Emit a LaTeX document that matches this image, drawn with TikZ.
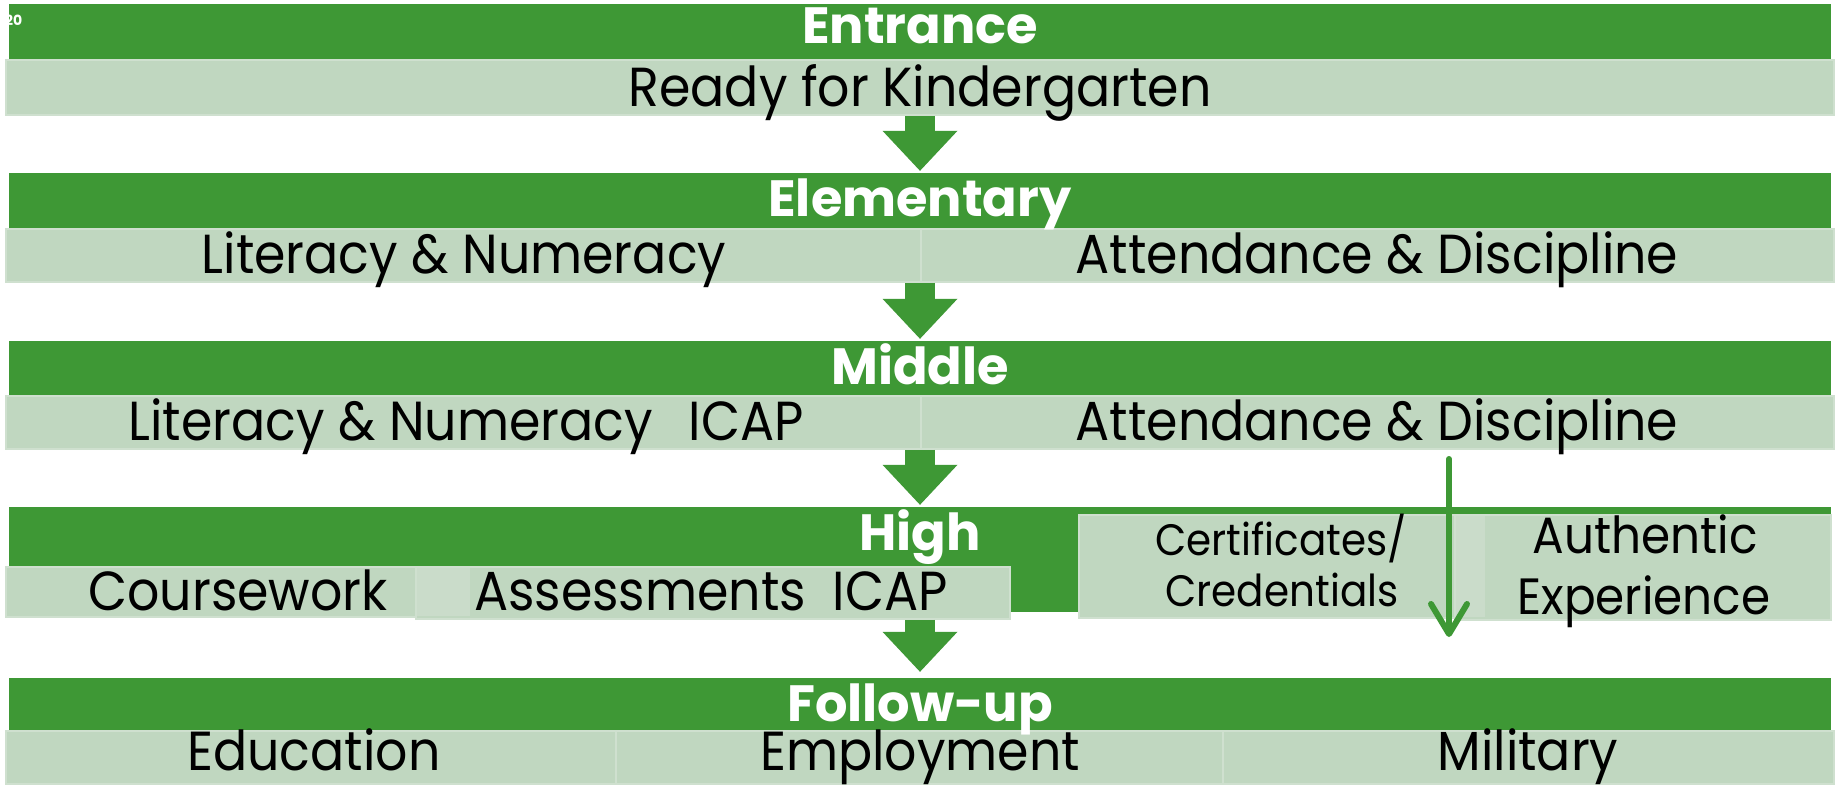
\documentclass[tikz,border=0pt]{standalone}
\usepackage{fontspec}
\setmainfont{Poppins}
\newfontfamily\bodyf{Poppins}[FakeStretch=0.92]
\usetikzlibrary{fit,arrows.meta}
\definecolor{dkgreen}{HTML}{3E9835}
\definecolor{ltgreen}{HTML}{C0D7C0}
\definecolor{ltedge}{HTML}{CFE0CF}
\definecolor{ovl}{HTML}{CADCCA}
\tikzset{
  gbar/.style={fill=dkgreen, draw=none, inner sep=0pt},
  lbox/.style={fill=ltgreen, draw=ltedge, line width=1.5pt, inner sep=0pt},
  headtxt/.style={font=\bfseries\fontsize{51}{51}\selectfont, text=white, inner sep=0pt, anchor=base},
  bodytxt/.style={font=\bodyf\fontsize{55}{60}\selectfont, text=black, inner sep=0pt, anchor=base},
  smalltxt/.style={font=\bodyf\fontsize{44}{50}\selectfont, text=black, inner sep=0pt, anchor=base},
  midtxt/.style={font=\bodyf\fontsize{51}{58}\selectfont, text=black, inner sep=0pt, anchor=base},
  blockarrow/.style={draw=dkgreen, line width=30pt, shorten >=2pt,
    -{Triangle[length=40pt, width=75pt, line width=0pt]}},
  thinarrow/.style={draw=dkgreen, line width=6pt, line cap=round,
    -{Straight Barb[length=30pt, width=36pt, line width=6pt, round]}}
}
\begin{document}
\begin{tikzpicture}[x=1pt,y=-1pt]
\useasboundingbox[fill=white] (0,0) rectangle (1839,785);
% row 1
\node[gbar, fit={(9,4) (1831,60)}] (g1) {};
\node[lbox, fit={(6,60) (1834,115)}] (l1) {};
% slide number
\node[font=\bfseries\fontsize{14}{14}\selectfont, text=white, inner sep=0pt, anchor=base west] (num) at (5,25) {20};
% row 2
\node[gbar, fit={(9,173) (1831,229)}] (g2) {};
\node[lbox, fit={(6,229) (921,282)}] (l2a) {};
\node[lbox, fit={(921,229) (1834,282)}] (l2b) {};
% row 3
\node[gbar, fit={(9,341) (1831,396)}] (g3) {};
\node[lbox, fit={(6,396) (921,449)}] (l3a) {};
\node[lbox, fit={(921,396) (1834,449)}] (l3b) {};
% row 4
\node[gbar, fit={(9,507) (1831,612)}] (g4) {};
\node[lbox, fit={(6,567) (470,617)}] (l4a) {};
\node[lbox, fit={(416,567) (1010,619)}] (l4b) {};
\fill[ovl] (417,568) rectangle (470,616);
\node[lbox, fit={(1079,515) (1485,618)}] (l4c) {};
\node[lbox, fit={(1455,515) (1831,620)}] (l4d) {};
\fill[ovl] (1456,516) rectangle (1485,617);
% row 5
\node[gbar, fit={(9,678) (1831,731)}] (g5) {};
\node[lbox, fit={(6,731) (616,784)}] (l5a) {};
\node[lbox, fit={(616,731) (1223,784)}] (l5b) {};
\node[lbox, fit={(1223,731) (1834,784)}] (l5c) {};
% texts
\node[headtxt] (h1) at (920,43) {Entrance};
\node[bodytxt] (t1) at (920,106) {Ready for Kindergarten};
\node[headtxt] (h2) at (920,216) {Elementary};
\node[bodytxt] (t2a) at (464,273) {Literacy \& Numeracy};
\node[bodytxt] (t2b) at (1377,273) {Attendance \& Discipline};
\node[headtxt] (h3) at (920,384) {Middle};
\node[bodytxt] (t3a) at (466,440) {Literacy \& Numeracy\hspace{36pt}ICAP};
\node[bodytxt] (t3b) at (1377,440) {Attendance \& Discipline};
\node[headtxt] (h4) at (920,550) {High};
\node[bodytxt] (t4a) at (238,610) {Coursework};
\node[bodytxt] (t4b) at (711,610) {Assessments~~ICAP};
\node[smalltxt] (t4c1) at (1281,555) {Certificates/};
\node[smalltxt] (t4c2) at (1282,606) {Credentials};
\node[midtxt] (t4d1) at (1645,553) {Authentic};
\node[midtxt] (t4d2) at (1644,614) {Experience};
\node[headtxt] (h5) at (920,721) {Follow-up};
\node[bodytxt] (t5a) at (314,770) {Education};
\node[bodytxt] (t5b) at (920,770) {Employment};
\node[bodytxt] (t5c) at (1528,770) {Military};
% arrows
\draw[blockarrow] (l1.south) -- (g2.north);
\draw[blockarrow] (g3.north |- l2a.south) -- (g3.north);
\draw[blockarrow] (g4.north |- l3a.south) -- (g4.north);
\draw[blockarrow, shorten >=6pt] (g5.north |- l4b.south) -- (g5.north);
\coordinate (ta) at (1449,459);
\coordinate (tb) at (1449,637);
\draw[thinarrow] (ta) -- (tb);
\end{tikzpicture}
\end{document}
